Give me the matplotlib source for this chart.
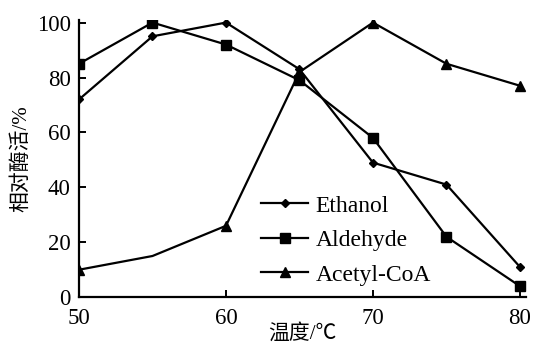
import matplotlib
matplotlib.use("Agg")
import matplotlib.pyplot as plt

# temperature (°C) and relative activity (%)
temps = [50, 55, 60, 65, 70, 75, 80]
ethanol = [72, 95, 100, 83, 49, 41, 11]
aldehyde = [85, 100, 92, 79, 58, 22, 4]
acetyl_coa = [10, 15, 26, 82, 100, 85, 77]

x_ticks = [50, 60, 70, 80]
y_ticks = [0, 20, 40, 60, 80, 100]

plt.rcParams["font.family"] = ["Liberation Serif", "Noto Sans CJK SC"]

fig = plt.figure(figsize=(5.41, 3.48), dpi=100)
ax = fig.add_axes([0.146, 0.146, 0.826, 0.797])

ax.plot(temps, ethanol, color="black", lw=1.6, marker="D", ms=4.5, label="Ethanol")
ax.plot(temps, aldehyde, color="black", lw=1.6, marker="s", ms=7, label="Aldehyde")
ax.plot(temps, acetyl_coa, color="black", lw=1.6, marker="^", ms=7,
        markevery=[0, 2, 3, 4, 5, 6], label="Acetyl-CoA")

ax.set_xlim(50, 80.4)
ax.set_ylim(0, 101)
ax.set_xticks(x_ticks)
ax.set_yticks(y_ticks)
ax.tick_params(direction="in", length=5, width=1.4, labelsize=16.5)
ax.tick_params(axis="x", pad=8)
ax.tick_params(axis="y", pad=6)
for side in ("top", "right"):
    ax.spines[side].set_visible(False)
for side in ("left", "bottom"):
    ax.spines[side].set_linewidth(1.6)

ax.set_xlabel("温度/℃", fontsize=15, labelpad=-4)
ax.set_ylabel("相对酶活/%", fontsize=15, labelpad=4)

ax.legend(loc="lower left", bbox_to_anchor=(0.36, -0.035), frameon=False,
          fontsize=17, handlelength=2.0, handletextpad=0.3, labelspacing=0.55)

fig.savefig("out.png", dpi=100)
